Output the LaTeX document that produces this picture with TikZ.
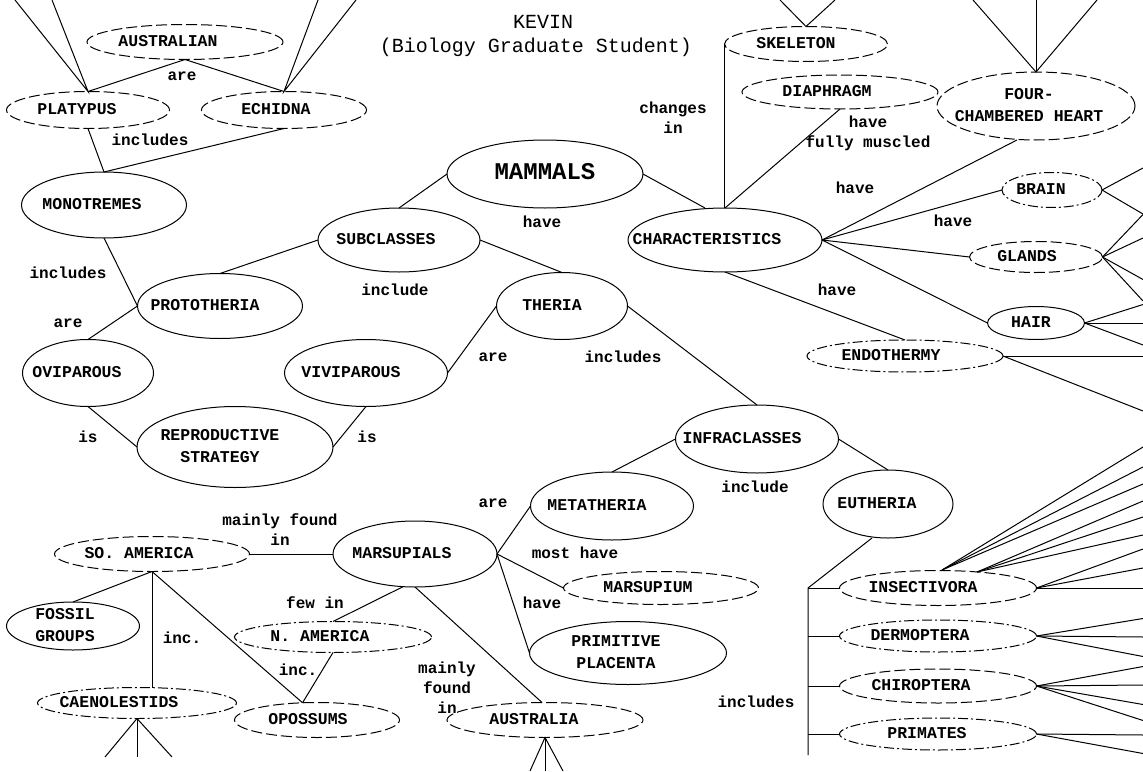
\documentclass[tikz,border=0pt]{standalone}
\usepackage{fontspec}
\setmainfont{Liberation Mono}
\usetikzlibrary{shapes.geometric,calc}
\newcommand\ctxt[2][-12pt]{\smash{\makebox[0pt]{\hspace*{#1}\hspace*{#1}\raisebox{-0.25em}{\begin{tabular}{@{}c@{}}#2\end{tabular}}}}}
\tikzset{
 ell/.style={ellipse, draw, line width=1pt, inner sep=0pt, outer sep=0pt, font=\bfseries\fontsize{16.5}{22}\selectfont},
 sol/.style={ell},
 dsh/.style={ell, dash pattern=on 11pt off 4pt},
 ddot/.style={ell, dash pattern=on 10pt off 3pt on 2pt off 3pt},
 lbl/.style={inner sep=0pt, align=center, font=\bfseries\fontsize{16}{20}\selectfont},
 ttl/.style={inner sep=0pt, font=\fontsize{20}{25}\selectfont},
 con/.style={line width=1pt},
}
\begin{document}
\begin{tikzpicture}[x=1pt,y=-1pt]
\useasboundingbox (0,0) rectangle (1143,771);
\fill[white] (0,0) rectangle (1143,771);

% title
\node[ttl] (title1) at (543,22) {KEVIN};
\node[ttl] (title2) at (536,47) {(Biology Graduate Student)};

% nodes
\node[dsh,minimum width=196pt,minimum height=35pt] (australian) at (185,42) {\ctxt[-17pt]{AUSTRALIAN}};
\node[dsh,minimum width=163pt,minimum height=37pt] (platypus) at (88,110) {\ctxt[-11pt]{PLATYPUS}};
\node[dsh,minimum width=165pt,minimum height=37pt] (echidna) at (284,110) {\ctxt[-8pt]{ECHIDNA}};
\node[sol,minimum width=165pt,minimum height=66pt] (monotremes) at (104,205) {\ctxt[-12pt]{MONOTREMES}};
\node[sol,minimum width=196pt,minimum height=68pt,font=\bfseries\fontsize{24}{28}\selectfont] (mammals) at (545,174) {\ctxt[0pt]{MAMMALS}};
\node[sol,minimum width=162pt,minimum height=64pt] (subclasses) at (399,240) {\ctxt[-13pt]{SUBCLASSES}};
\node[sol,minimum width=194pt,minimum height=64pt] (characteristics) at (725,240) {\ctxt[-18pt]{CHARACTERISTICS}};
\node[dsh,minimum width=163pt,minimum height=35pt] (skeleton) at (806,44) {\ctxt[-10pt]{SKELETON}};
\node[dsh,minimum width=196pt,minimum height=34pt] (diaphragm) at (840,92) {\ctxt[-13pt]{DIAPHRAGM}};
\node[dsh,minimum width=198pt,minimum height=68pt] (heart) at (1036,106) {\ctxt[-7pt]{FOUR-\\CHAMBERED HEART}};
\node[ddot,minimum width=100pt,minimum height=35pt] (brain) at (1052,190) {\ctxt[-11pt]{BRAIN}};
\node[dsh,minimum width=133pt,minimum height=31pt] (glands) at (1036,257) {\ctxt[-9pt]{GLANDS}};
\node[sol,minimum width=97pt,minimum height=33pt] (hair) at (1036,323) {\ctxt[-5pt]{HAIR}};
\node[ddot,minimum width=196pt,minimum height=32pt] (endothermy) at (905,356) {\ctxt[-14pt]{ENDOTHERMY}};
\node[sol,minimum width=165pt,minimum height=65pt] (prototheria) at (220,306) {\ctxt[-15pt]{PROTOTHERIA}};
\node[sol,minimum width=131pt,minimum height=67pt] (theria) at (562,306) {\ctxt[-10pt]{THERIA}};
\node[sol,minimum width=131pt,minimum height=67pt] (oviparous) at (88,373) {\ctxt[-11pt]{OVIPAROUS}};
\node[sol,minimum width=163pt,minimum height=67pt] (viviparous) at (366,373) {\ctxt[-15pt]{VIVIPAROUS}};
\node[sol,minimum width=196pt,minimum height=81pt] (repro) at (235,447) {\ctxt[-15pt]{REPRODUCTIVE\\STRATEGY}};
\node[sol,minimum width=163pt,minimum height=68pt] (infraclasses) at (757,439) {\ctxt[-15pt]{INFRACLASSES}};
\node[sol,minimum width=163pt,minimum height=68pt] (metatheria) at (612,506) {\ctxt[-15pt]{METATHERIA}};
\node[sol,minimum width=130pt,minimum height=68pt] (eutheria) at (888,504) {\ctxt[-11pt]{EUTHERIA}};
\node[dsh,minimum width=195pt,minimum height=35pt] (soamerica) at (152,554) {\ctxt[-13pt]{SO. AMERICA}};
\node[sol,minimum width=164pt,minimum height=66pt] (marsupials) at (415,554) {\ctxt[-13pt]{MARSUPIALS}};
\node[sol,minimum width=133pt,minimum height=48pt] (fossil) at (73,626) {\ctxt[-8pt]{FOSSIL\\GROUPS}};
\node[ddot,minimum width=197pt,minimum height=31pt] (namerica) at (333,637) {\ctxt[-13pt]{N. AMERICA}};
\node[ddot,minimum width=199pt,minimum height=31pt] (caenolestids) at (137,703) {\ctxt[-18pt]{CAENOLESTIDS}};
\node[dsh,minimum width=165pt,minimum height=35pt] (opossums) at (317,720) {\ctxt[-9pt]{OPOSSUMS}};
\node[dsh,minimum width=195pt,minimum height=33pt] (marsupium) at (661,588) {\ctxt[-13pt]{MARSUPIUM}};
\node[sol,minimum width=197pt,minimum height=63pt] (placenta) at (628,653) {\ctxt[-12pt]{PRIMITIVE\\PLACENTA}};
\node[dsh,minimum width=196pt,minimum height=35pt] (australia) at (545,720) {\ctxt[-11pt]{AUSTRALIA}};
\node[dsh,minimum width=197pt,minimum height=35pt] (insectivora) at (938,588) {\ctxt[-15pt]{INSECTIVORA}};
\node[ddot,minimum width=197pt,minimum height=32pt] (dermoptera) at (938,636) {\ctxt[-18pt]{DERMOPTERA}};
\node[dsh,minimum width=197pt,minimum height=34pt] (chiroptera) at (938,686) {\ctxt[-17pt]{CHIROPTERA}};
\node[ddot,minimum width=197pt,minimum height=32pt] (primates) at (938,734) {\ctxt[-11pt]{PRIMATES}};

% labels
\node[lbl] (l1) at (182,76) {are};
\node[lbl] (l2) at (150,140) {includes};
\node[lbl] (l3) at (68,273) {includes};
\node[lbl] (l4) at (68,323) {are};
\node[lbl] (l5) at (88,437) {is};
\node[lbl] (l6) at (367,437) {is};
\node[lbl] (l7) at (395,290) {include};
\node[lbl] (l8) at (493,357) {are};
\node[lbl] (l9) at (623,357) {includes};
\node[lbl] (l10) at (542,222) {have};
\node[lbl] (l11) at (673,118) {changes\\in};
\node[lbl] (l12) at (868,133) {have\\fully muscled};
\node[lbl] (l13) at (855,188) {have};
\node[lbl] (l14) at (953,221) {have};
\node[lbl] (l15) at (837,290) {have};
\node[lbl] (l16) at (755,487) {include};
\node[lbl] (l17) at (493,503) {are};
\node[lbl] (l18) at (280,530) {mainly found\\in};
\node[lbl] (l19) at (575,553) {most have};
\node[lbl] (l20) at (542,603) {have};
\node[lbl] (l21) at (315,603) {few in};
\node[lbl] (l22) at (182,638) {inc.};
\node[lbl] (l23) at (298,670) {inc.};
\node[lbl] (l24) at (447,688) {mainly\\found\\in};
\node[lbl] (l25) at (756,702) {includes};

% free ends
\coordinate (t1) at (15,0); \coordinate (t2) at (52,0);
\coordinate (t3) at (318,0); \coordinate (t4) at (356,0);
\coordinate (t5) at (780,0); \coordinate (t6) at (835,0);
\coordinate (t7) at (973,0); \coordinate (t8) at (1036,0); \coordinate (t9) at (1097,0);
\coordinate (b1) at (105,757); \coordinate (b2) at (137,757); \coordinate (b3) at (172,757);
\coordinate (b4) at (530,771); \coordinate (b5) at (545,771); \coordinate (b6) at (563,771);
\coordinate (bus1) at (808,588); \coordinate (bus2) at (808,755);
\coordinate (ins1) at (942,570); \coordinate (ins2) at (977,572);

% connectors
\draw[con] (t1) -- (platypus.north) -- (t2);
\draw[con] (t3) -- (echidna.north) -- (t4);
\draw[con] (australian.south) -- (platypus.north);
\draw[con] (australian.south) -- (echidna.north);
\draw[con] (platypus.south) -- (monotremes.north);
\draw[con] (echidna.south) -- (monotremes.north);
\draw[con] (monotremes.south) -- (prototheria.west);
\draw[con] (prototheria.west) -- (oviparous.north);
\draw[con] (subclasses.west) -- (prototheria.north);
\draw[con] (subclasses.east) -- (theria.north);
\draw[con] (mammals.west) -- (subclasses.north);
\draw[con] (mammals.east) -- ($(characteristics.north)+(-20,0)$);
\draw[con] (skeleton.west) -- (skeleton.west |- characteristics.north);
\draw[con] (diaphragm.south) -- (characteristics.north);
\draw[con] ($(heart.south)+(-19,0)$) -- (characteristics.east);
\draw[con] (characteristics.east) -- (brain.west);
\draw[con] (characteristics.east) -- (glands.west);
\draw[con] (characteristics.east) -- (hair.west);
\draw[con] (characteristics.south) -- (endothermy.north);
\draw[con] (t5) -- (skeleton.north) -- (t6);
\draw[con] (t7) -- (heart.north) -- (t9);
\draw[con] (heart.north) -- (t8);
\draw[con] (brain.east) -- (1143,168);
\draw[con] (brain.east) -- (1143,214);
\draw[con] (glands.east) -- (1143,214.5);
\draw[con] (glands.east) -- (1143,238);
\draw[con] (glands.east) -- (1143,279.5);
\draw[con] (glands.east) -- (1143,301);
\draw[con] (hair.east) -- (1143,304.5);
\draw[con] (hair.east) -- (1143,323);
\draw[con] (hair.east) -- (1143,345);
\draw[con] (endothermy.east) -- (1143,356);
\draw[con] (endothermy.east) -- (1143,411);
\draw[con] (theria.west) -- (viviparous.east);
\draw[con] (theria.east) -- (infraclasses.north);
\draw[con] (infraclasses.west) -- (metatheria.north);
\draw[con] (infraclasses.east) -- (eutheria.north);
\draw[con] (oviparous.south) -- (repro.west);
\draw[con] (viviparous.south) -- (repro.east);
\draw[con] (metatheria.west) -- (marsupials.east);
\draw[con] (marsupials.east) -- (marsupium.west);
\draw[con] (marsupials.east) -- (placenta.west);
\draw[con] (marsupials.south) -- ($(australia.north)+(-3,0)$);
\draw[con] (marsupials.250) -- (namerica.north);
\draw[con] (marsupials.west) -- (soamerica.east);
\draw[con] (soamerica.south) -- (fossil.north);
\draw[con] (soamerica.south) -- (soamerica.south |- caenolestids.north);
\draw[con] (soamerica.south) -- (opossums.130);
\draw[con] (namerica.south) -- (opossums.130);
\draw[con] (b1) -- (caenolestids.south) -- (b3);
\draw[con] (caenolestids.south) -- (b2);
\draw[con] (b4) -- (australia.south) -- (b6);
\draw[con] (australia.south) -- (b5);
\draw[con] ($(eutheria.south)+(-16,0)$) -- (bus1) -- (bus2);
\draw[con] (bus1) -- (insectivora.west);
\draw[con] (bus1 |- dermoptera.west) -- (dermoptera.west);
\draw[con] (bus1 |- chiroptera.west) -- (chiroptera.west);
\draw[con] (bus1 |- primates.west) -- (primates.west);
\draw[con] (ins1) -- (1143,447);
\draw[con] (ins1) -- (1143,467);
\draw[con] (ins1) -- (1143,484);
\draw[con] (ins2) -- (1143,501);
\draw[con] (ins2) -- (1143,517);
\draw[con] (ins2) -- (1143,535);
\draw[con] (insectivora.east) -- (1143,549);
\draw[con] (insectivora.east) -- (1143,568);
\draw[con] (insectivora.east) -- (1143,588);
\draw[con] (dermoptera.east) -- (1143,618.5);
\draw[con] (dermoptera.east) -- (1143,637);
\draw[con] (dermoptera.east) -- (1143,656.5);
\draw[con] (chiroptera.east) -- (1143,666.5);
\draw[con] (chiroptera.east) -- (1143,685);
\draw[con] (chiroptera.east) -- (1143,704.5);
\draw[con] (chiroptera.east) -- (1143,720.5);
\draw[con] (primates.east) -- (1143,735);
\draw[con] (primates.east) -- (1143,753.5);
\end{tikzpicture}
\end{document}
